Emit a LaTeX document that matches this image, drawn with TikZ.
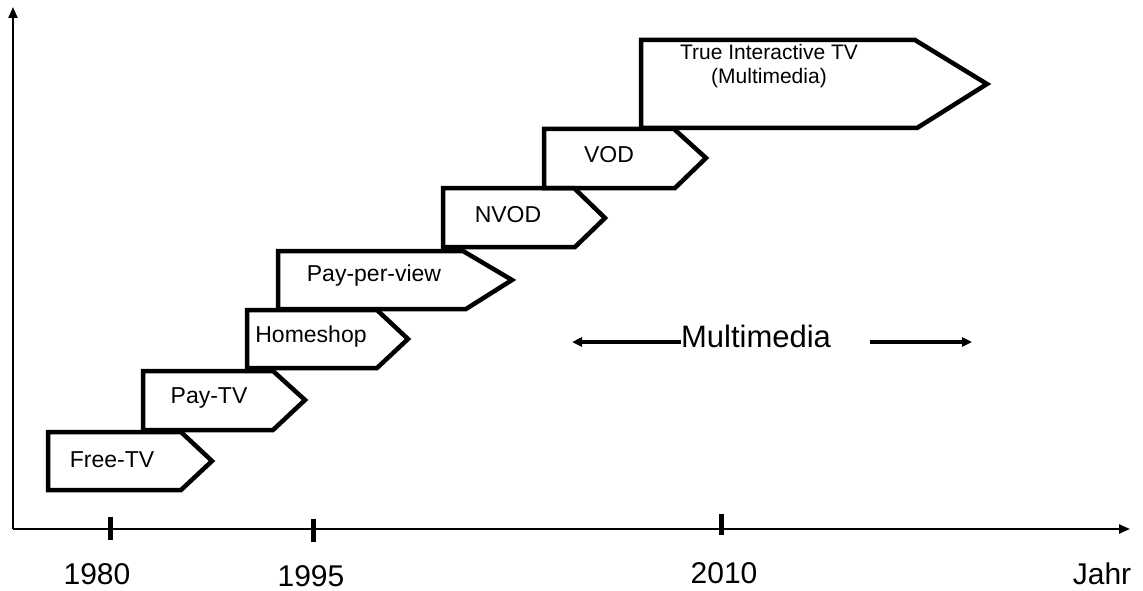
\documentclass[tikz,border=0pt]{standalone}
\usepackage{fontspec}
\setmainfont{Liberation Sans}
\usetikzlibrary{arrows.meta}
\begin{document}
\begin{tikzpicture}[x=1pt,y=-1pt,
  stage/.style={line width=4.5pt,line join=miter},
  stagetext/.style={font=\fontsize{23}{26}\selectfont,inner sep=0pt,align=center},
  axis/.style={line width=2.2pt,-{Triangle[length=11pt,width=9pt]}},
  tick/.style={line width=5pt},
  yearlabel/.style={font=\fontsize{30}{34}\selectfont,inner sep=0pt,anchor=base,text depth=0pt},
  spanarrow/.style={line width=4pt,-{Triangle[length=10pt,width=9pt]}}]
\useasboundingbox (0,0) rectangle (1143,591);
% axes
\coordinate (origin) at (13,529);
\coordinate (ytop) at (13,7);
\coordinate (xend) at (1130,529);
\draw[axis] (origin) -- (ytop);
\draw[axis] (origin) -- (xend);
% ticks
\coordinate (t1a) at (110,517); \coordinate (t1b) at (110,540);
\coordinate (t2a) at (313,519); \coordinate (t2b) at (313,542);
\coordinate (t3a) at (721,514); \coordinate (t3b) at (721,535);
\draw[tick] (t1a) -- (t1b);
\draw[tick] (t2a) -- (t2b);
\draw[tick] (t3a) -- (t3b);
% year labels
\node[yearlabel] (y1980) at (97,584) {1980};
\node[yearlabel] (y1995) at (311,586) {1995};
\node[yearlabel] (y2010) at (724,583) {2010};
\node[yearlabel] (jahr) at (1102,584) {Jahr};
% stages
\draw[stage] (48,432) -- (181,432) -- (212,461) -- (181,490) -- (48,490) -- cycle;
\node[stagetext] (freetv) at (112,460) {Free-TV};
\draw[stage] (143,371) -- (273,371) -- (305,400) -- (273,430) -- (143,430) -- cycle;
\node[stagetext] (paytv) at (209,398) {Pay-TV};
\draw[stage] (247,310) -- (377,310) -- (408,339) -- (377,368) -- (247,368) -- cycle;
\node[stagetext] (homeshop) at (311,337) {Homeshop};
\draw[stage] (278,251) -- (463,251) -- (512,280) -- (466,309) -- (278,309) -- cycle;
\node[stagetext] (ppv) at (374,276) {Pay-per-view};
\draw[stage] (443,188) -- (574,188) -- (605,218) -- (575,247) -- (443,247) -- cycle;
\node[stagetext] (nvod) at (508,215) {NVOD};
\draw[stage] (544,129) -- (674,129) -- (706,158) -- (675,188) -- (544,188) -- cycle;
\node[stagetext] (vod) at (609,155) {VOD};
\draw[stage] (641,40) -- (915,40) -- (987,84) -- (917,128) -- (641,128) -- cycle;
\node[stagetext,font=\fontsize{21}{24}\selectfont] (titv) at (769,66) {True Interactive TV\\(Multimedia)};
% multimedia
\node[font=\fontsize{31}{34}\selectfont,inner sep=0pt] (mm) at (756,336) {Multimedia};
\coordinate (mmleft) at (572,342);
\coordinate (mmrightstart) at (870,342);
\coordinate (mmright) at (972,342);
\draw[spanarrow] (mm.west |- mmleft) -- (mmleft);
\draw[spanarrow] (mmrightstart) -- (mmright);
\end{tikzpicture}
\end{document}
